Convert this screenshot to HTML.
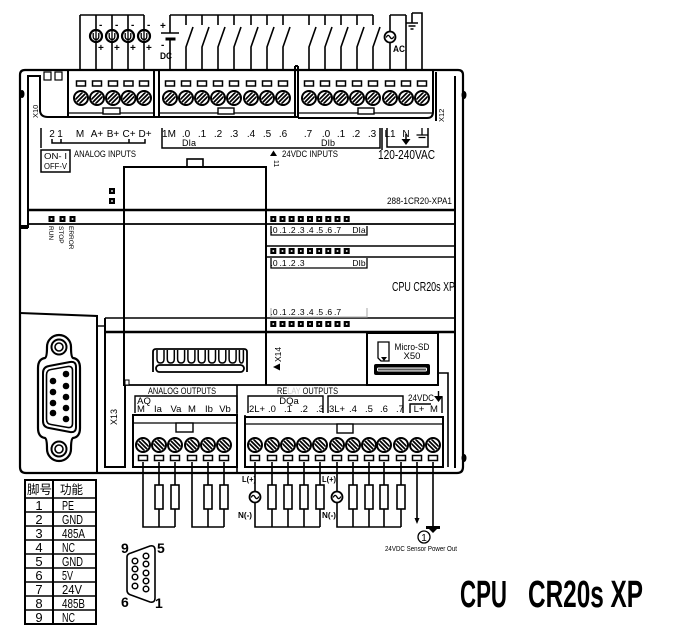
<!DOCTYPE html>
<html><head><meta charset="utf-8">
<style>
html,body{margin:0;padding:0;background:#fff;}
svg{display:block;}
text{font-family:"Liberation Sans Narrow","Liberation Sans",sans-serif;fill:#000;}
.cjk{font-family:"Liberation Sans","Noto Sans CJK SC",sans-serif;}
</style></head><body>
<svg width="674" height="631" viewBox="0 0 674 631" xmlns="http://www.w3.org/2000/svg">
<defs>
<clipPath id="cc"><circle r="5.8"/></clipPath>
<g id="st"><circle r="7" fill="#fff" stroke="#000" stroke-width="2"/><path clip-path="url(#cc)" d="M-10 5.8L5.8 -10M-8 8L8 -8M-5.8 10L10 -5.8" stroke="#000" stroke-width="1.7"/></g>
<g id="sb"><circle r="7" fill="#fff" stroke="#000" stroke-width="2"/><path clip-path="url(#cc)" d="M-10 -5.8L5.8 10M-8 -8L8 8M-5.8 -10L10 5.8" stroke="#000" stroke-width="1.7"/></g>
<rect id="sl" x="-4.5" y="-2.5" width="9" height="5" fill="#fff" stroke="#000" stroke-width="1.5"/>
<g id="led"><rect x="-3" y="-3" width="6" height="6" fill="#000"/><rect x="-0.8" y="-0.8" width="1.6" height="1.6" fill="#fff"/></g>
<rect id="res" x="-4" y="0" width="8" height="24" fill="#fff" stroke="#000" stroke-width="1.6"/>
<g id="cs"><circle r="6" fill="#fff" stroke="#000" stroke-width="2.2"/><path d="M-2.8 -3V0.5Q-2.8 3.5 0 3.5Q2.8 3.5 2.8 0.5V-3M0 -5V5" fill="none" stroke="#000" stroke-width="1.3"/></g>
<g id="ac"><circle r="5.5" fill="#fff" stroke="#000" stroke-width="1.8"/><path d="M-3.8 0.5Q-2 -3.5 0 0Q2 3.5 3.8 -0.5" fill="none" stroke="#000" stroke-width="1.3"/></g>
</defs>
<rect width="674" height="631" fill="#fff"/>

<!-- ===== TOP WIRING ===== -->
<g stroke="#000" stroke-width="1.6" fill="none">
<path d="M80 15H144M80 15V70M96 15V70M112 15V70M128 15V70M144 15V70"/>
<path d="M170 15H373M170 15V33M170 39V70"/>
<path d="M161 33H179"/>
<path d="M165.5 39H175.5" stroke-width="3"/>
<path d="M186 15V25M186 70V47L193 27M202 15V25M202 70V47L209 27M218 15V25M218 70V47L225 27M234 15V25M234 70V47L241 27M251 15V25M251 70V47L258 27M267 15V25M267 70V47L274 27M283 15V25M283 70V47L290 27"/>
<path d="M309 15V25M309 70V47L316 27M325 15V25M325 70V47L332 27M341 15V25M341 70V47L348 27M357 15V25M357 70V47L364 27M373 15V25M373 70V47L380 27"/>
<path d="M390 15H406M390 15V70M406 15V70M412 13H422V70M412 13V23M406 23H418M408.5 26H415.5M410.5 29H413.5"/>
</g>
<use href="#cs" x="96" y="36"/><use href="#cs" x="112" y="36"/><use href="#cs" x="128" y="36"/><use href="#cs" x="144" y="36"/>
<use href="#ac" x="390" y="37"/>
<g font-size="10" font-weight="bold">
<text x="99" y="28">-</text><text x="115" y="28">-</text><text x="131" y="28">-</text><text x="147" y="28">-</text>
<text x="98" y="51">+</text><text x="114" y="51">+</text><text x="130" y="51">+</text><text x="146" y="51">+</text>
<text x="160" y="29">+</text><text x="161" y="48">-</text>
<text x="160" y="59" font-size="9" textLength="12" lengthAdjust="spacingAndGlyphs">DC</text>
<text x="393" y="52" font-size="9" textLength="12" lengthAdjust="spacingAndGlyphs">AC</text>
</g>

<!-- ===== MAIN FRAME ===== -->
<g stroke="#000" fill="none" stroke-width="2">
<path d="M20 75Q20 70 25 70H458Q463 70 463 75V467Q463 473 457 473H26Q20 473 20 467Z" stroke-width="2.2"/>
<path d="M28 228V76H40V110Q40 117 48 117H154"/>
<path d="M455 76V468"/>
<path d="M436 72V121"/>
<path d="M433 70V112Q433 118 427 118H298"/>
<path d="M154 117H298"/>
<!-- top blocks -->
<path d="M68 70V117M154 70V117M159 70V117M295 66V117M298 66V117M295 66H298"/>
<path d="M68 113H154M159 113H295M298 113H433" stroke-width="1.2"/>
<rect x="103" y="108" width="17" height="6" fill="#fff" stroke-width="1.4"/>
<rect x="218" y="108" width="16" height="6" fill="#fff" stroke-width="1.4"/>
<rect x="358" y="108" width="16" height="6" fill="#fff" stroke-width="1.4"/>
<rect x="44" y="72" width="7" height="8" stroke-width="1.2"/><rect x="55" y="72" width="7" height="8" stroke-width="1.2"/>
<!-- body lines -->
<path d="M28 210H455" stroke-width="2.6"/>
<path d="M28 224H455" stroke-width="1.8"/>
<path d="M266 246H455M266 257H455" stroke-width="1.5"/>
<path d="M105 318H455" stroke-width="1.5"/>
<path d="M105 332H455" stroke-width="2.6"/>
<path d="M124 385H438" stroke-width="1.8"/>
<path d="M124 386V167H266V385"/>
<rect x="187" y="159" width="16" height="8" fill="#fff" stroke-width="1.6"/>
<path d="M181 167H209" stroke-width="2"/>
<!-- DB9 panel -->
<path d="M20 313L97 316V472"/>
<path d="M105 318V467H125V385"/>
<path d="M97 326H105" stroke-width="1.4"/>
<path d="M237 385V472M245 415V467" stroke-width="1.6"/>
<!-- bottom blocks -->
<rect x="133" y="415" width="104" height="52" stroke-width="2"/>
<path d="M133 423H237" stroke-width="1.2"/>
<rect x="176" y="423" width="17" height="9" fill="#fff" stroke-width="1.4"/>
<rect x="245" y="417" width="198" height="50" stroke-width="2"/>
<path d="M245 424H443" stroke-width="1.2"/>
<rect x="337" y="424" width="16" height="9" fill="#fff" stroke-width="1.4"/>
<path d="M438 373H448V467" stroke-width="1.6"/>
<!-- micro sd -->
<rect x="367" y="333" width="71" height="52" stroke-width="2"/>
<path d="M378 342H389V361H381L378 358Z" stroke-width="1.3"/>
</g>
<rect x="20" y="225" width="8" height="4" fill="#000"/>
<ellipse cx="22" cy="94" rx="2.5" ry="4" fill="#000"/>
<ellipse cx="464" cy="95" rx="2.5" ry="4" fill="#000"/>
<ellipse cx="464" cy="458" rx="2.5" ry="4" fill="#000"/>
<path d="M381 357H387L384 361Z" fill="#000"/>
<rect x="374" y="364" width="56" height="11" rx="2" fill="#000"/>
<rect x="377" y="367.5" width="50" height="4" rx="1.5" fill="#fff"/>
<rect x="378" y="368.5" width="48" height="2" fill="#555"/>

<!-- top screws & slots -->
<g>
<use href="#sl" x="81" y="83.5"/><use href="#sl" x="97" y="83.5"/><use href="#sl" x="113" y="83.5"/><use href="#sl" x="128.5" y="83.5"/><use href="#sl" x="144" y="83.5"/>
<use href="#sl" x="170" y="83.5"/><use href="#sl" x="186" y="83.5"/><use href="#sl" x="202" y="83.5"/><use href="#sl" x="218" y="83.5"/><use href="#sl" x="234" y="83.5"/><use href="#sl" x="251" y="83.5"/><use href="#sl" x="267" y="83.5"/><use href="#sl" x="283" y="83.5"/>
<use href="#sl" x="309" y="83.5"/><use href="#sl" x="325" y="83.5"/><use href="#sl" x="341" y="83.5"/><use href="#sl" x="357" y="83.5"/><use href="#sl" x="373" y="83.5"/><use href="#sl" x="390" y="83.5"/><use href="#sl" x="406" y="83.5"/><use href="#sl" x="422" y="83.5"/>
<use href="#st" x="81" y="98"/><use href="#st" x="97" y="98"/><use href="#st" x="113" y="98"/><use href="#st" x="128.5" y="98"/><use href="#st" x="144" y="98"/>
<use href="#st" x="170" y="98"/><use href="#st" x="186" y="98"/><use href="#st" x="202" y="98"/><use href="#st" x="218" y="98"/><use href="#st" x="234" y="98"/><use href="#st" x="251" y="98"/><use href="#st" x="267" y="98"/><use href="#st" x="283" y="98"/>
<use href="#st" x="309" y="98"/><use href="#st" x="325" y="98"/><use href="#st" x="341" y="98"/><use href="#st" x="357" y="98"/><use href="#st" x="373" y="98"/><use href="#st" x="390" y="98"/><use href="#st" x="406" y="98"/><use href="#st" x="422" y="98"/>
</g>

<!-- bottom screws & slots -->
<g>
<use href="#sb" x="143" y="445"/><use href="#sb" x="159" y="445"/><use href="#sb" x="175" y="445"/><use href="#sb" x="192" y="445"/><use href="#sb" x="208" y="445"/><use href="#sb" x="224" y="445"/>
<use href="#sb" x="255" y="445"/><use href="#sb" x="272" y="445"/><use href="#sb" x="288" y="445"/><use href="#sb" x="304" y="445"/><use href="#sb" x="320" y="445"/><use href="#sb" x="337" y="445"/><use href="#sb" x="353" y="445"/><use href="#sb" x="369" y="445"/><use href="#sb" x="384" y="445"/><use href="#sb" x="401" y="445"/><use href="#sb" x="417" y="445"/><use href="#sb" x="433" y="445"/>
<use href="#sl" x="143" y="458"/><use href="#sl" x="159" y="458"/><use href="#sl" x="175" y="458"/><use href="#sl" x="192" y="458"/><use href="#sl" x="208" y="458"/><use href="#sl" x="224" y="458"/>
<use href="#sl" x="255" y="458"/><use href="#sl" x="272" y="458"/><use href="#sl" x="288" y="458"/><use href="#sl" x="304" y="458"/><use href="#sl" x="320" y="458"/><use href="#sl" x="337" y="458"/><use href="#sl" x="353" y="458"/><use href="#sl" x="369" y="458"/><use href="#sl" x="384" y="458"/><use href="#sl" x="401" y="458"/><use href="#sl" x="417" y="458"/><use href="#sl" x="433" y="458"/>
</g>

<!-- ===== TOP LABEL ROW ===== -->
<g stroke="#000" fill="none" stroke-width="1.5">
<path d="M41 128V148"/>
<path d="M52 139V143H145V139M61 143V139M129 143V139"/>
<rect x="41" y="150" width="29" height="22"/>
<path d="M162 128V148H380V128"/>
<path d="M382 128V150M387 128V147H428V128"/>
<path d="M422 128V135M416.5 135H427.5M418.5 137.5H425.5" stroke-width="1.3"/>
<path d="M406 134V139"/>
</g>
<path d="M401.5 139H410.5L406 145Z" fill="#000"/>
<g font-size="10" text-anchor="middle">
<text x="52" y="137">2</text><text x="60" y="137">1</text><text x="80" y="137">M</text><text x="97" y="137">A+</text><text x="113" y="137">B+</text><text x="129" y="137">C+</text><text x="145" y="137">D+</text>
<text x="169" y="137">1M</text><text x="186" y="137">.0</text><text x="202" y="137">.1</text><text x="218" y="137">.2</text><text x="234" y="137">.3</text><text x="251" y="137">.4</text><text x="267" y="137">.5</text><text x="283" y="137">.6</text>
<text x="308" y="137">.7</text><text x="326" y="137">.0</text><text x="341" y="137">.1</text><text x="356" y="137">.2</text><text x="372" y="137">.3</text>
<text x="390" y="137">L1</text><text x="406" y="137">N</text>
<text x="189" y="146" font-size="9">DIa</text><text x="328" y="146" font-size="9">DIb</text>
</g>
<text x="44" y="159" font-size="8.5" textLength="23" lengthAdjust="spacingAndGlyphs">ON- I</text>
<text x="44" y="169" font-size="8.5" textLength="23" lengthAdjust="spacingAndGlyphs">OFF-V</text>
<text x="74" y="157" font-size="9.5" textLength="62" lengthAdjust="spacingAndGlyphs">ANALOG INPUTS</text>
<path d="M270 156H277L273.5 150.5Z" fill="#000"/>
<text x="282" y="157" font-size="9.5" textLength="56" lengthAdjust="spacingAndGlyphs">24VDC INPUTS</text>
<text transform="translate(274,160) rotate(90)" font-size="7">11</text>
<text x="378" y="159" font-size="13" textLength="57" lengthAdjust="spacingAndGlyphs">120-240VAC</text>
<text transform="translate(38,118) rotate(-90)" font-size="7.5" fill="#555">X10</text>
<text transform="translate(444,122) rotate(-90)" font-size="7.5" fill="#444">X12</text>

<!-- ===== LEDs ===== -->
<use href="#led" x="112" y="191"/><use href="#led" x="112" y="201"/>
<use href="#led" x="51.5" y="219"/><use href="#led" x="62.5" y="219"/><use href="#led" x="72.5" y="219"/>
<g font-size="6.5" fill="#888">
<text transform="translate(49,226) rotate(90)" fill="#888">RUN</text>
<text transform="translate(59,226) rotate(90)" fill="#888">STOP</text>
<text transform="translate(69,226) rotate(90)" fill="#bbb">ERROR</text>
</g>
<g>
<use href="#led" x="273.3" y="219"/><use href="#led" x="282.5" y="219"/><use href="#led" x="291.6" y="219"/><use href="#led" x="300.8" y="219"/><use href="#led" x="310" y="219"/><use href="#led" x="319.2" y="219"/><use href="#led" x="328.3" y="219"/><use href="#led" x="337.5" y="219"/><use href="#led" x="346.7" y="219"/>
<use href="#led" x="273.3" y="251"/><use href="#led" x="282.5" y="251"/><use href="#led" x="291.6" y="251"/><use href="#led" x="300.8" y="251"/><use href="#led" x="310" y="251"/><use href="#led" x="319.2" y="251"/><use href="#led" x="328.3" y="251"/><use href="#led" x="337.5" y="251"/><use href="#led" x="346.7" y="251"/>
<use href="#led" x="273.3" y="324"/><use href="#led" x="282.5" y="324"/><use href="#led" x="291.6" y="324"/><use href="#led" x="300.8" y="324"/><use href="#led" x="310" y="324"/><use href="#led" x="319.2" y="324"/><use href="#led" x="328.3" y="324"/><use href="#led" x="337.5" y="324"/><use href="#led" x="346.7" y="324"/>
</g>
<g stroke="#000" fill="none" stroke-width="1.3">
<path d="M271 226V235H367V226"/>
<path d="M271 258V268H367V258"/>
<path d="M271 308V317H367V308" stroke="#bbb"/>
</g>
<g font-size="8.5" text-anchor="middle">
<text x="274" y="233">.0</text><text x="283" y="233">.1</text><text x="292" y="233">.2</text><text x="301" y="233">.3</text><text x="310" y="233">.4</text><text x="319.5" y="233">.5</text><text x="328.5" y="233">.6</text><text x="337.5" y="233">.7</text><text x="359" y="233">DIa</text>
<text x="274" y="266">.0</text><text x="283" y="266">.1</text><text x="292" y="266">.2</text><text x="301" y="266">.3</text><text x="359" y="266">DIb</text>
</g>
<g font-size="8.5" text-anchor="middle" fill="#aaa">
<text x="274" y="315" fill="#bbb">.0</text><text x="283" y="315" fill="#ccc">.1</text><text x="292" y="315" fill="#bbb">.2</text><text x="301" y="315" fill="#999">.3</text><text x="310" y="315" fill="#777">.4</text><text x="319.5" y="315" fill="#888">.5</text><text x="328.5" y="315" fill="#999">.6</text><text x="337.5" y="315" fill="#ccc">.7</text>
</g>
<text x="387" y="204" font-size="9.5" textLength="65" lengthAdjust="spacingAndGlyphs">288-1CR20-XPA1</text>
<text x="392" y="291" font-size="12.5" textLength="63" lengthAdjust="spacingAndGlyphs">CPU CR20s XP</text>

<!-- comb connector -->
<g stroke="#000" fill="none" stroke-width="1.8">
<path d="M153 372V352Q153 349 156 349H244Q247 349 247 352V372"/>
<path d="M157 350V359Q157 363 160.5 363Q164 363 164 359V350M167.3 350V359Q167.3 363 170.8 363Q174.3 363 174.3 359V350M177.6 350V359Q177.6 363 181.1 363Q184.6 363 184.6 359V350M187.9 350V359Q187.9 363 191.4 363Q194.9 363 194.9 359V350M198.2 350V359Q198.2 363 201.7 363Q205.2 363 205.2 359V350M208.5 350V359Q208.5 363 212 363Q215.5 363 215.5 359V350M218.8 350V359Q218.8 363 222.3 363Q225.8 363 225.8 359V350M229.1 350V359Q229.1 363 232.6 363Q236.1 363 236.1 359V350M239.4 350V359Q239.4 363 241.4 363Q243.4 363 243.4 359V350" stroke-width="1.5"/>
<rect x="156" y="365" width="88" height="7" rx="3.5" fill="#fff"/>
</g>
<rect x="125" y="380" width="4" height="5" fill="#fff" stroke="#000" stroke-width="1"/>

<!-- X14 & Micro SD text -->
<text transform="translate(281,362) rotate(-90)" font-size="8.5">X14</text>
<path d="M273 367L280 363.5V370.5Z" fill="#000"/>
<text x="412" y="350" font-size="9.5" text-anchor="middle" textLength="35" lengthAdjust="spacingAndGlyphs">Micro-SD</text>
<text x="412" y="359" font-size="9.5" text-anchor="middle">X50</text>

<!-- ===== DB9 big ===== -->
<g stroke="#000" fill="none">
<path d="M38 368Q38 359 45 358Q47 357 47 347A12 12 0 0 1 71 347Q71 357 73 358Q80 359 80 368V428Q80 437 73 438Q71 439 71 449A12 12 0 0 1 47 449Q47 439 45 438Q38 437 38 428Z" stroke-width="2.2" fill="#fff"/>
<circle cx="59" cy="347" r="7.5" stroke-width="2"/><circle cx="59" cy="347" r="4" stroke-width="1.6"/>
<circle cx="59" cy="449" r="7.5" stroke-width="2"/><circle cx="59" cy="449" r="4" stroke-width="1.6"/>
<path d="M43 373Q43 367 49 366L70 362Q76 361 76 367V427Q76 433 70 432L49 428Q43 427 43 421Z" stroke-width="2"/>
<path d="M46.5 375Q46.5 370 51 369.5L68 366.5Q72.5 366 72.5 370.5V423.5Q72.5 428 68 427.5L51 424.5Q46.5 424 46.5 419Z" stroke-width="1.6"/>
</g>
<g fill="#000">
<circle cx="53" cy="381" r="3.3"/><circle cx="53" cy="392" r="3.3"/><circle cx="53" cy="403" r="3.3"/><circle cx="53" cy="413" r="3.3"/>
<circle cx="66" cy="374" r="3.3"/><circle cx="66" cy="386" r="3.3"/><circle cx="66" cy="397" r="3.3"/><circle cx="66" cy="408" r="3.3"/><circle cx="66" cy="419" r="3.3"/>
</g>
<text transform="translate(117,425) rotate(-90)" font-size="9">X13</text>

<!-- ===== BOTTOM LABELS ===== -->
<g stroke="#000" fill="none" stroke-width="1.4">
<path d="M135 413V396H237V413"/>
<path d="M248 413V396H323V413M328 413V396H403V413"/>
<path d="M410 413V404H431M442 397V413"/>
<path d="M438.5 391V397"/>
</g>
<path d="M434 396H443L438.5 402Z" fill="#000"/>
<text x="148" y="394" font-size="9.5" textLength="68" lengthAdjust="spacingAndGlyphs">ANALOG OUTPUTS</text>
<text x="277" y="394" font-size="9.5" textLength="61" lengthAdjust="spacingAndGlyphs">RE<tspan fill="#ccc">LAY</tspan> OUTPUTS</text>
<g font-size="9.5" text-anchor="middle">
<text x="144" y="404">AQ</text>
<text x="141" y="412">M</text><text x="158" y="412">Ia</text><text x="176" y="412">Va</text><text x="192" y="412">M</text><text x="209" y="412">Ib</text><text x="225" y="412">Vb</text>
<text x="289" y="404">DQa</text>
<text x="257" y="412">2L+</text><text x="272" y="412">.0</text><text x="288" y="412">.1</text><text x="304" y="412">.2</text><text x="320" y="412">.3</text>
<text x="337" y="412">3L+</text><text x="353" y="412">.4</text><text x="369" y="412">.5</text><text x="384" y="412">.6</text><text x="400" y="412">.7</text>
<text x="419" y="412">L+</text><text x="434" y="412">M</text>
</g>
<text x="408" y="401" font-size="9.5" textLength="26" lengthAdjust="spacingAndGlyphs">24VDC</text>

<!-- ===== BOTTOM WIRING ===== -->
<g stroke="#000" fill="none" stroke-width="1.6">
<path d="M143 462V527H175M159 462V485M159 509V527M175 462V485M175 509V527M192 462V527H224M208 462V485M208 509V527M224 462V485M224 509V527"/>
<path d="M255 462V492M255 502V527H320M272 462V485M272 509V527M288 462V485M288 509V527M304 462V485M304 509V527M320 462V485M320 509V527"/>
<path d="M337 462V492M337 502V527H401M353 462V485M353 509V527M369 462V485M369 509V527M384 462V485M384 509V527M401 462V485M401 509V527"/>
<path d="M417 462V520M433 462V527"/>
<path d="M426 527.5H440" stroke-width="3"/>
<circle cx="424" cy="537" r="6" stroke-width="1.3"/>
</g>
<path d="M414.5 518H419.5L417 524Z" fill="#000"/>
<path d="M429 529H437L433 533Z" fill="#000"/>
<use href="#res" x="159" y="485"/><use href="#res" x="175" y="485"/><use href="#res" x="208" y="485"/><use href="#res" x="224" y="485"/>
<use href="#res" x="272" y="485"/><use href="#res" x="288" y="485"/><use href="#res" x="304" y="485"/><use href="#res" x="320" y="485"/>
<use href="#res" x="353" y="485"/><use href="#res" x="369" y="485"/><use href="#res" x="384" y="485"/><use href="#res" x="401" y="485"/>
<use href="#ac" x="255" y="497"/><use href="#ac" x="337" y="497"/>
<g font-size="8.5" font-weight="bold">
<text x="242" y="482" textLength="14" lengthAdjust="spacingAndGlyphs">L(+)</text>
<text x="238" y="518" textLength="14" lengthAdjust="spacingAndGlyphs">N(-)</text>
<text x="322" y="482" textLength="14" lengthAdjust="spacingAndGlyphs">L(+)</text>
<text x="322" y="518" textLength="14" lengthAdjust="spacingAndGlyphs">N(-)</text>
</g>
<text x="424" y="541" font-size="10" text-anchor="middle">1</text>
<text x="385" y="551" font-size="7" textLength="72" lengthAdjust="spacingAndGlyphs">24VDC Sensor Power Out</text>

<!-- ===== TABLE ===== -->
<g stroke="#000" fill="none">
<rect x="25" y="480" width="71" height="144" stroke-width="2"/>
<path d="M53 480V624" stroke-width="2"/>
<path d="M25 498H96M25 512H96M25 526H96M25 540H96M25 554H96M25 568H96M25 582H96M25 596H96M25 610H96" stroke-width="1.6"/>
</g>
<text class="cjk" x="27" y="494" font-size="12.5" textLength="25" lengthAdjust="spacingAndGlyphs">脚号</text>
<text class="cjk" x="60" y="494" font-size="12.5" textLength="23" lengthAdjust="spacingAndGlyphs">功能</text>
<g font-size="13" text-anchor="middle">
<text x="39" y="510">1</text><text x="39" y="524">2</text><text x="39" y="538">3</text><text x="39" y="552">4</text><text x="39" y="566">5</text><text x="39" y="580">6</text><text x="39" y="594">7</text><text x="39" y="608">8</text><text x="39" y="622">9</text>
</g>
<g font-size="13">
<text x="62" y="510" textLength="12" lengthAdjust="spacingAndGlyphs">PE</text>
<text x="62" y="524" textLength="21" lengthAdjust="spacingAndGlyphs">GND</text>
<text x="62" y="538" textLength="23" lengthAdjust="spacingAndGlyphs">485A</text>
<text x="62" y="552" textLength="13" lengthAdjust="spacingAndGlyphs">NC</text>
<text x="62" y="566" textLength="21" lengthAdjust="spacingAndGlyphs">GND</text>
<text x="62" y="580" textLength="11" lengthAdjust="spacingAndGlyphs">5V</text>
<text x="62" y="594" textLength="20" lengthAdjust="spacingAndGlyphs">24V</text>
<text x="62" y="608" textLength="23" lengthAdjust="spacingAndGlyphs">485B</text>
<text x="62" y="622" textLength="13" lengthAdjust="spacingAndGlyphs">NC</text>
</g>

<!-- ===== small DB9 ===== -->
<path d="M131 553L150 546Q155 545 155 550V598Q155 603 150 602L131 595Q127 594 127 590V557Q127 554 131 553Z" fill="none" stroke="#000" stroke-width="1.6"/>
<g fill="#fff" stroke="#000" stroke-width="1.5">
<circle cx="135" cy="561" r="2.8"/><circle cx="135" cy="569" r="2.8"/><circle cx="135" cy="577" r="2.8"/><circle cx="135" cy="586" r="2.8"/>
<circle cx="146" cy="556" r="2.8"/><circle cx="146" cy="564" r="2.8"/><circle cx="146" cy="573" r="2.8"/><circle cx="146" cy="581" r="2.8"/><circle cx="146" cy="589" r="2.8"/>
</g>
<g font-size="14" font-weight="bold" style="font-family:'Liberation Serif',serif">
<text x="121" y="553">9</text><text x="157" y="553">5</text><text x="121" y="607">6</text><text x="155" y="608">1</text>
</g>

<!-- ===== Big title ===== -->
<text x="460" y="607" font-size="38" font-weight="bold" textLength="47" lengthAdjust="spacingAndGlyphs" style="font-family:'Liberation Sans',sans-serif">CPU</text>
<text x="528" y="607" font-size="38" font-weight="bold" textLength="115" lengthAdjust="spacingAndGlyphs" style="font-family:'Liberation Sans',sans-serif">CR20s XP</text>
</svg>
</body></html>
